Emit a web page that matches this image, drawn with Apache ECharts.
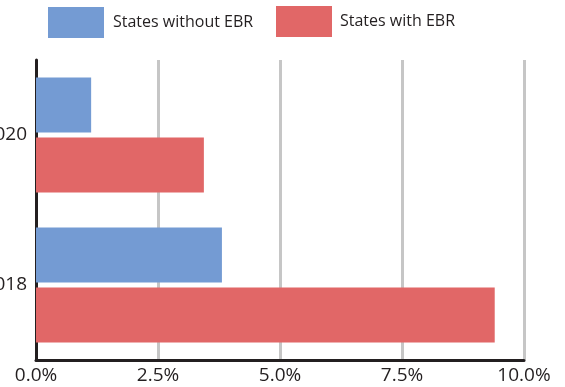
<!DOCTYPE html>
<html>
<head>
<meta charset="utf-8">
<script src="https://cdn.jsdelivr.net/npm/echarts@6/dist/echarts.min.js"></script>
<style>
  html, body { margin: 0; padding: 0; background: #fff; }
  #chart { width: 565px; height: 387px; }
</style>
</head>
<body>
<div id="chart"></div>
<script>
// Share of workers (%) by year, split by whether the state has EBR
const years = ['2018', '2020'];
const withoutEBR = [3.81, 1.13];
const withEBR = [9.40, 3.44];
const xTicks = [0, 2.5, 5, 7.5, 10];

const FONT = '"Open Sans", "Noto Sans", sans-serif';
const BLUE = '#749bd3';
const RED = '#e16767';

const chart = echarts.init(document.getElementById('chart'), null, { renderer: 'canvas' });

chart.setOption({
  animation: false,
  backgroundColor: '#ffffff',
  legend: [
    {
      data: ['States without EBR'],
      left: 48, top: 7,
      padding: 0,
      itemWidth: 56, itemHeight: 31,
      itemGap: 0,
      icon: 'rect',
      textStyle: { fontFamily: FONT, fontSize: 16, color: '#231f20', padding: [0, 0, 0, 4] }
    },
    {
      data: ['States with EBR'],
      left: 276, top: 6,
      padding: 0,
      itemWidth: 56, itemHeight: 31,
      itemGap: 0,
      icon: 'rect',
      textStyle: { fontFamily: FONT, fontSize: 16, color: '#231f20', padding: [0, 0, 0, 3] }
    }
  ],
  grid: { left: 36, right: 41, top: 60, bottom: 27, containLabel: false, outerBoundsMode: 'none' },
  xAxis: {
    type: 'value',
    min: xTicks[0],
    max: xTicks[xTicks.length - 1],
    interval: xTicks[1] - xTicks[0],
    axisLine: { show: true, lineStyle: { color: '#231f20', width: 3 } },
    axisTick: { show: false },
    axisLabel: {
      fontFamily: FONT, fontSize: 19, color: '#231f20', margin: 6,
      formatter: v => v.toFixed(1) + '%'
    },
    splitLine: { show: true, lineStyle: { color: '#c6c6c6', width: 3 } }
  },
  yAxis: {
    type: 'category',
    data: years,
    axisLine: { show: true, lineStyle: { color: '#231f20', width: 3 } },
    axisTick: { show: false },
    axisLabel: { fontFamily: FONT, fontSize: 19, color: '#231f20', margin: 9, padding: [6, 0, 0, 0] }
  },
  series: [
    {
      name: 'States without EBR',
      type: 'bar',
      data: withoutEBR,
      barWidth: 55,
      barGap: '9%',
      itemStyle: { color: BLUE }
    },
    {
      name: 'States with EBR',
      type: 'bar',
      data: withEBR,
      barWidth: 55,
      barGap: '9%',
      itemStyle: { color: RED }
    }
  ]
});
</script>
</body>
</html>
